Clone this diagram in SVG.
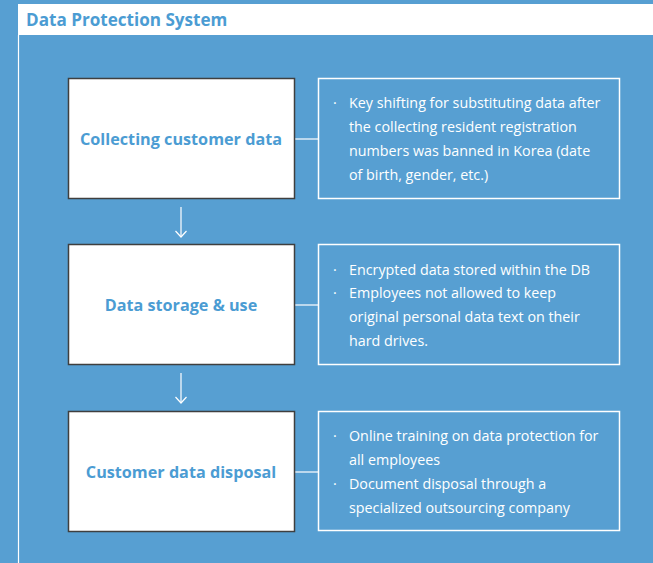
<svg xmlns="http://www.w3.org/2000/svg" width="653" height="563" viewBox="0 0 653 563">
<defs>
<style>
.bg{fill:#579fd2}
.node{fill:#fff;stroke:#3f3f3f;stroke-width:1.5}
.note{fill:none;stroke:#fff;stroke-width:1.5}
.lbl{font-family:"Open Sans","Liberation Sans",Arial,sans-serif;font-weight:bold;font-size:16.2px;fill:#4b9cd3;text-anchor:middle}
.txt{font-family:"Open Sans","Liberation Sans",Arial,sans-serif;font-size:14.3px;fill:#fff}
.title{font-family:"Open Sans","Liberation Sans",Arial,sans-serif;font-weight:bold;font-size:17.1px;fill:#4b9cd3}
.con{stroke:#fff;stroke-width:1.2;fill:none}
</style>
<marker id="arr" viewBox="0 0 12 12" refX="11" refY="6" markerWidth="12" markerHeight="12" markerUnits="userSpaceOnUse" orient="auto">
<path d="M5 0.5 L11 6 L5 11.5" fill="none" stroke="#fff" stroke-width="1.2"/>
</marker>
</defs>
<rect class="bg" x="0" y="0" width="653" height="563"/>
<rect x="18" y="4" width="635" height="31" fill="#fff"/>
<line x1="18.5" y1="35" x2="18.5" y2="563" stroke="#fff" stroke-width="1.2"/>
<text class="title" x="26" y="26">Data Protection System</text>

<g id="connectors">
<line class="con" x1="294" y1="139" x2="318" y2="139"/>
<line class="con" x1="294" y1="305" x2="318" y2="305"/>
<line class="con" x1="294" y1="472" x2="318" y2="472"/>
<line class="con" x1="181" y1="207" x2="181" y2="237" marker-end="url(#arr)"/>
<line class="con" x1="181" y1="373" x2="181" y2="403" marker-end="url(#arr)"/>
</g>

<g id="node1">
<rect class="node" x="68.5" y="78.5" width="226" height="120"/>
<text class="lbl" x="181" y="145">Collecting customer data</text>
</g>
<g id="note1">
<rect class="note" x="318.5" y="78.5" width="301" height="120"/>
<text class="txt"><tspan x="333" y="108">·</tspan><tspan x="349" y="108">Key shifting for substituting data after</tspan><tspan x="349" y="132">the collecting resident registration</tspan><tspan x="349" y="156">numbers was banned in Korea (date</tspan><tspan x="349" y="180">of birth, gender, etc.)</tspan></text>
</g>

<g id="node2">
<rect class="node" x="68.5" y="244.5" width="226" height="120"/>
<text class="lbl" x="181" y="311">Data storage &amp; use</text>
</g>
<g id="note2">
<rect class="note" x="318.5" y="244.5" width="301" height="120"/>
<text class="txt"><tspan x="333" y="275">·</tspan><tspan x="349" y="275">Encrypted data stored within the DB</tspan><tspan x="333" y="298">·</tspan><tspan x="349" y="298">Employees not allowed to keep</tspan><tspan x="349" y="322">original personal data text on their</tspan><tspan x="349" y="346">hard drives.</tspan></text>
</g>

<g id="node3">
<rect class="node" x="68.5" y="411.5" width="226" height="120"/>
<text class="lbl" x="181" y="478">Customer data disposal</text>
</g>
<g id="note3">
<rect class="note" x="318.5" y="411.5" width="301" height="119"/>
<text class="txt"><tspan x="333" y="441">·</tspan><tspan x="349" y="441">Online training on data protection for</tspan><tspan x="349" y="465">all employees</tspan><tspan x="333" y="489">·</tspan><tspan x="349" y="489">Document disposal through a</tspan><tspan x="349" y="513">specialized outsourcing company</tspan></text>
</g>
</svg>
